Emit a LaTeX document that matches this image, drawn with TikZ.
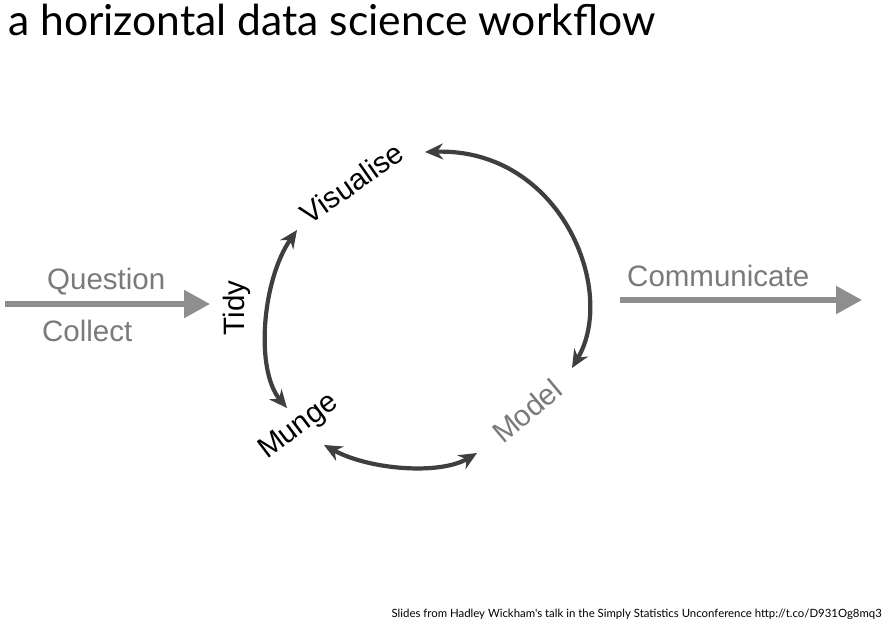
\documentclass[tikz,border=0pt]{standalone}
\usepackage{fontspec}
\setmainfont{Liberation Sans}
\newfontfamily\gill{Lato}
\usetikzlibrary{arrows.meta}
\definecolor{lgrey}{HTML}{7A7A7A}
\definecolor{agrey}{HTML}{8E8E8E}
\definecolor{dgrey}{HTML}{3F3F3F}
\begin{document}
\begin{tikzpicture}[x=1pt,y=1pt,
  lbl/.style={inner sep=0pt, font=\fontsize{29.5}{34}\selectfont},
  glbl/.style={lbl, text=lgrey},
  flow/.style={agrey, line width=5.5pt, -{Triangle[length=26pt,width=27pt]}},
  cyc/.style={dgrey, line width=4.2pt, {Stealth[length=18pt,width=16pt]}-{Stealth[length=18pt,width=16pt]}},
]
\useasboundingbox (0,0) rectangle (888,-625);
\fill[white] (0,0) rectangle (888,-625);
\node[anchor=base west, inner sep=0pt, font=\gill\fontsize{42.6}{50}\selectfont] (title) at (8,-35) {a horizontal data science workflow};
\node[glbl, anchor=base west] (question) at (47,-289) {Question};
\node[glbl, anchor=base west] (collect) at (42,-341) {Collect};
\node[glbl, anchor=base west] (communicate) at (627,-286) {Communicate};
\coordinate (qs) at (5,-304);
\coordinate (qe) at (210,-304);
\coordinate (cs) at (620,-300);
\coordinate (ce) at (862,-300);
\draw[flow] (qs) -- (qe);
\draw[flow] (cs) -- (ce);
\node[lbl, rotate=90] (tidy) at (237,-308) {Tidy};
\node[lbl, rotate=35] (vis) at (352,-183) {Visualise};
\node[lbl, rotate=37] (munge) at (299,-427) {Munge};
\node[glbl, rotate=40] (model) at (527,-411) {Model};
\coordinate (t1) at (297,-230);
\coordinate (t2) at (287,-408);
\coordinate (b1) at (425,-152);
\coordinate (b2) at (572,-368);
\coordinate (m1) at (324,-445);
\coordinate (m2) at (477,-453);
\draw[cyc] (t1) .. controls (262,-280) and (255,-370) .. (t2);
\draw[cyc] (b1) .. controls (560,-148) and (618,-290) .. (b2);
\draw[cyc] (m1) .. controls (370,-470) and (440,-475) .. (m2);
\node[anchor=base east, inner sep=0pt, font=\gill\fontsize{11.4}{13}\selectfont] (credit) at (882,-617) {Slides from Hadley Wickham's talk in the Simply Statistics Unconference http://t.co/D931Og8mq3};
\end{tikzpicture}
\end{document}
